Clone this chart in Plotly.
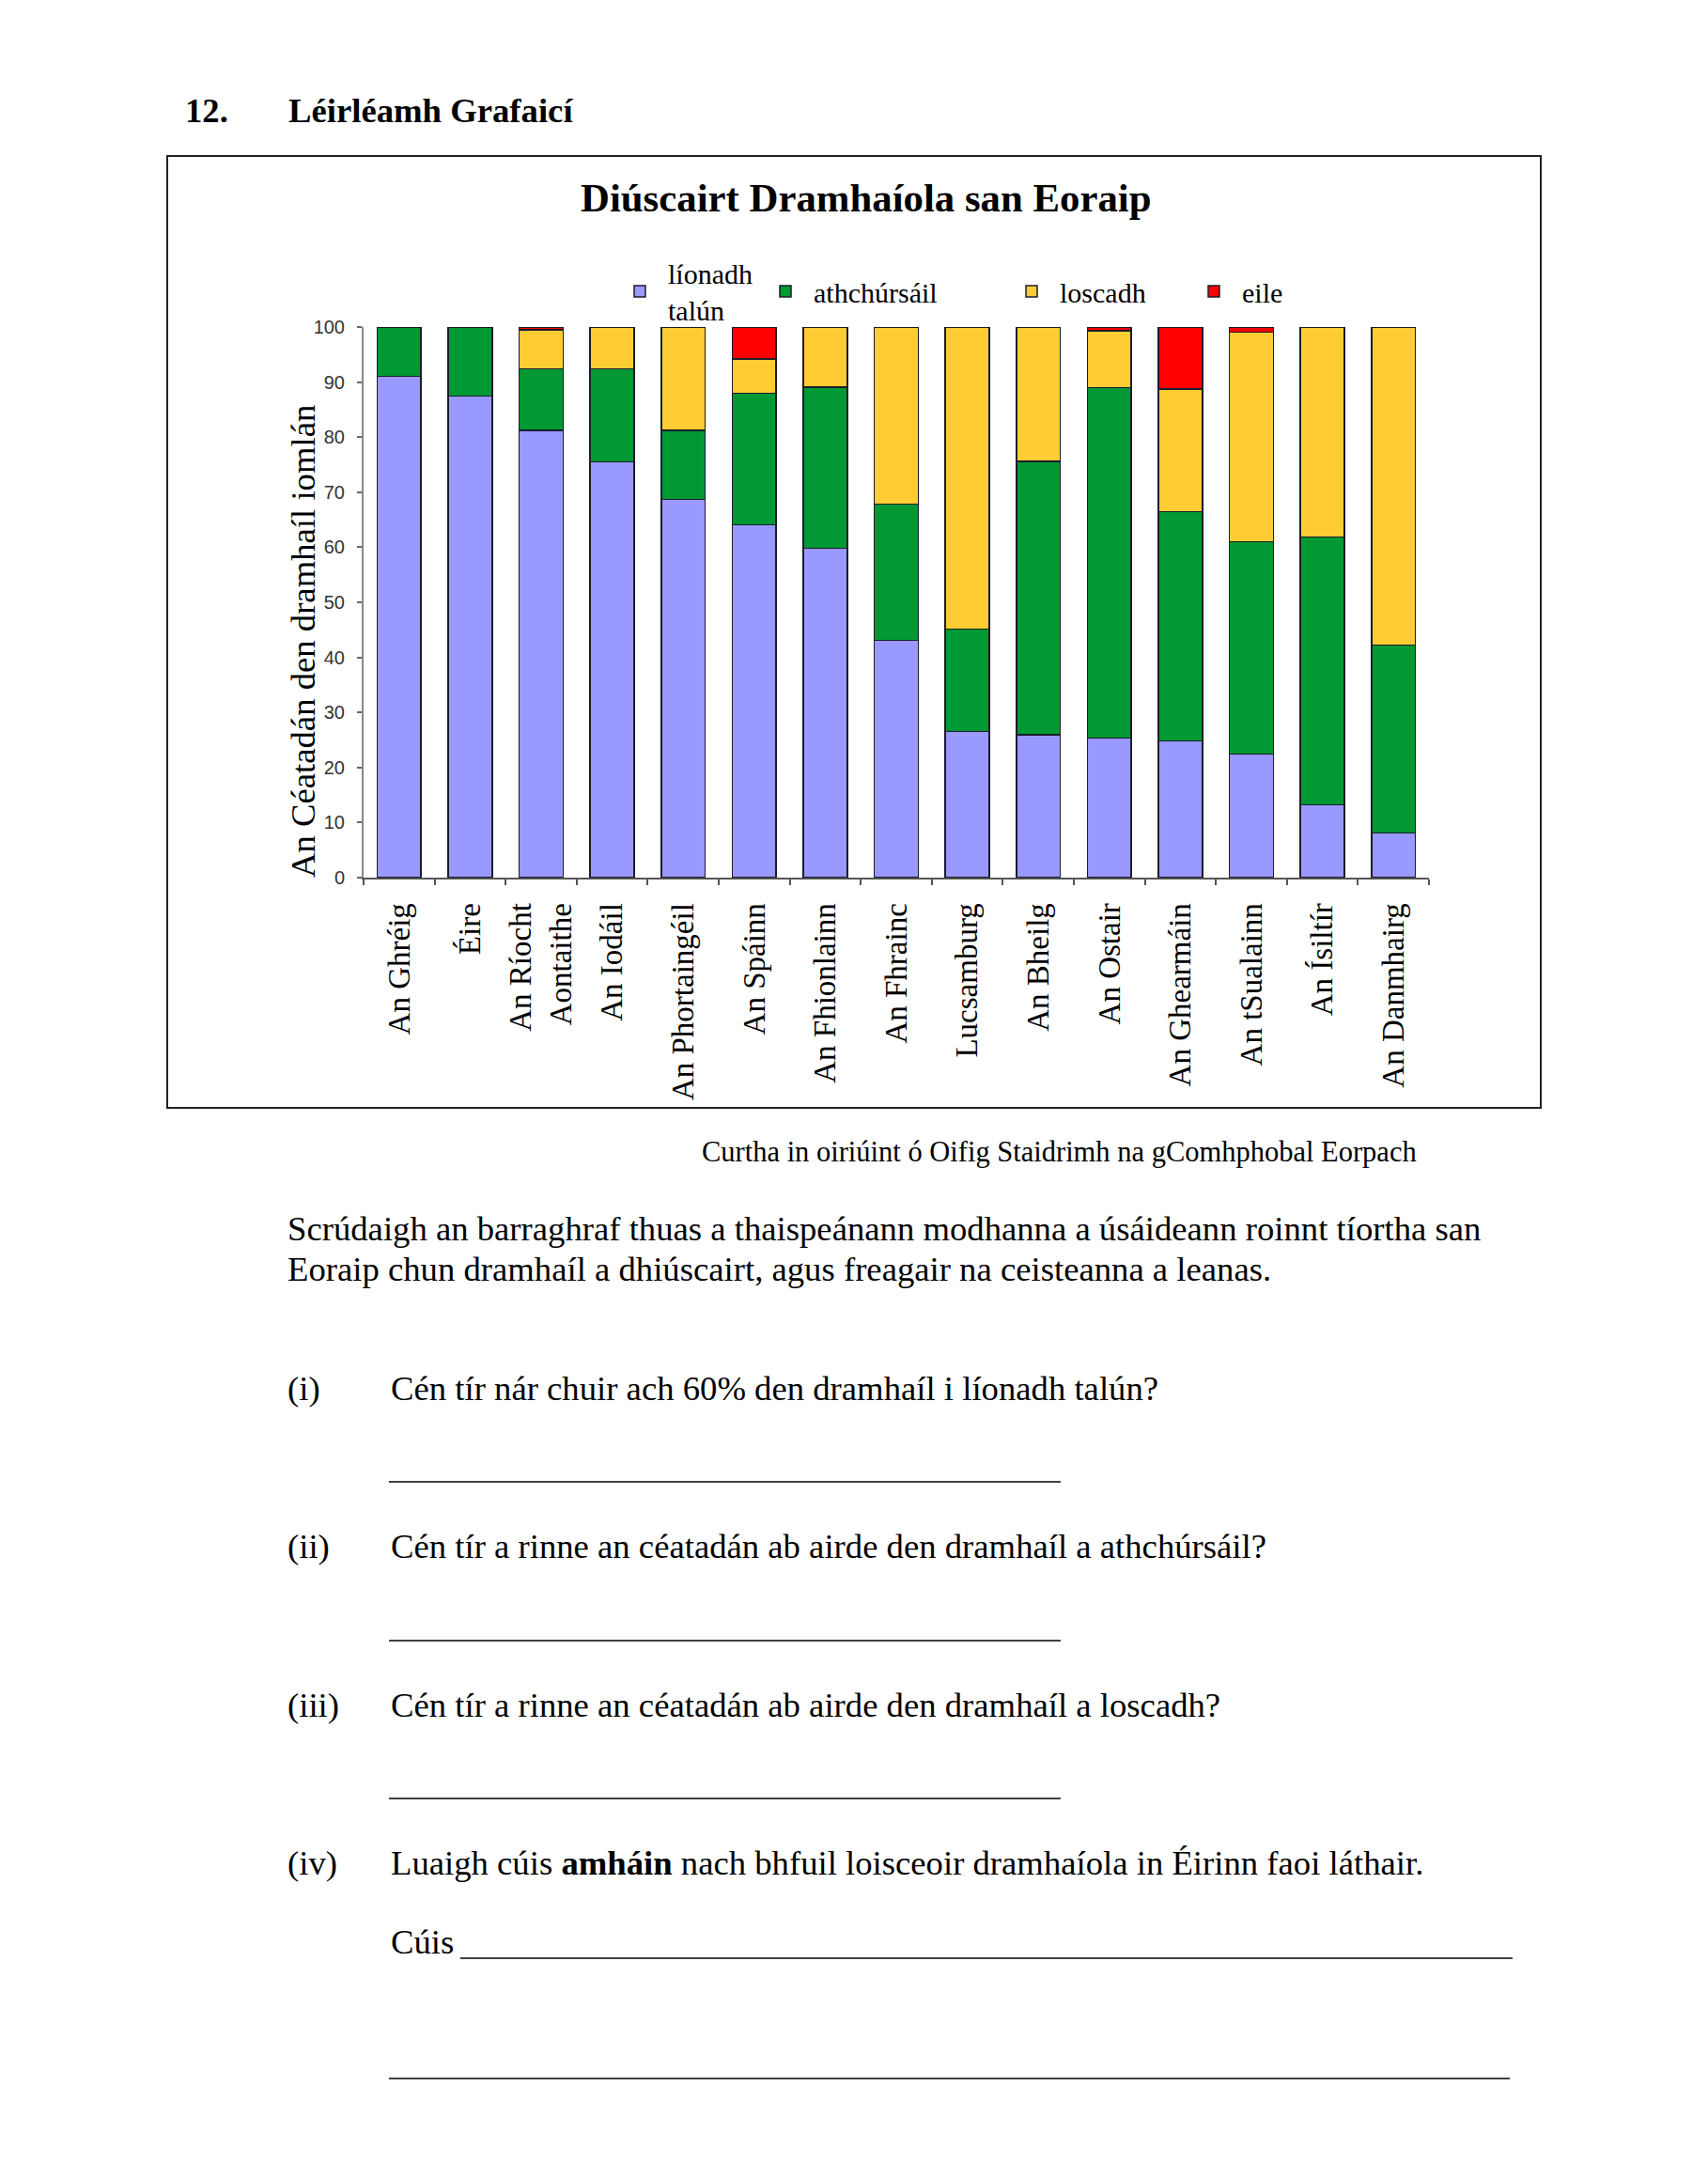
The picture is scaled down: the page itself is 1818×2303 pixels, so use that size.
import plotly.graph_objects as go

# ---------------- data ----------------
countries = ["An Ghréig", "Éire", "An Ríocht<br>Aontaithe", "An Iodáil", "An Phortaingéil",
             "An Spáinn", "An Fhionlainn", "An Fhrainc", "Lucsamburg", "An Bheilg",
             "An Ostair", "An Ghearmáin", "An tSualainn", "An Ísiltír", "An Danmhairg"]
lionadh_talun = [91.0, 87.5, 81.2, 75.5, 68.7, 64.1, 59.8, 43.1, 26.5, 25.9, 25.3, 24.8, 22.4, 13.2, 8.1]
athchursail = [9.0, 12.5, 11.2, 16.9, 12.5, 23.9, 29.3, 24.7, 18.6, 49.7, 63.7, 41.7, 38.6, 48.7, 34.1]
loscadh = [0, 0, 7.1, 7.6, 18.8, 6.2, 10.9, 32.2, 54.9, 24.4, 10.3, 22.2, 38.1, 38.1, 57.8]
eile = [0, 0, 0.5, 0, 0, 5.8, 0, 0, 0, 0, 0.7, 11.3, 0.9, 0, 0]

series_names = ["líonadh<br>talún", "athchúrsáil", "loscadh", "eile"]
series_values = [lionadh_talun, athchursail, loscadh, eile]
series_colors = ["#9999FF", "#009933", "#FFCC33", "#FF0000"]
legend_ids = ["legend", "legend2", "legend3", "legend4"]

y_ticks = list(range(0, 101, 10))

# ---------------- page geometry (screen pixels; page body has an 8px margin) ----------------
OFF = 8
W, H = 1818 - 2 * OFF, 2303 - 2 * OFF
PL, PR, PT, PB = 387, 1521, 348, 934   # plot area in screen pixels


def px(x):
    return (x - PL) / (PR - PL)


def py(y):
    return (PB - y) / (PB - PT)


SERIF = "Liberation Serif"
SANS = "Liberation Sans"

fig = go.Figure()
for name, vals, col, lg in zip(series_names, series_values, series_colors, legend_ids):
    fig.add_trace(go.Bar(
        x=countries, y=vals, name=name, legend=lg,
        marker=dict(color=col, line=dict(color="#1c1c2c", width=1.5)),
    ))

# legends positioned individually (x = start of the label text)
legend_text_x = [712, 867, 1129, 1323]
common_leg = dict(orientation="v", bgcolor="rgba(0,0,0,0)", borderwidth=0,
                  font=dict(family=SERIF, size=30, color="black"),
                  xanchor="left", yanchor="middle", itemwidth=50, itemclick=False)
leg_layout = {}
for lg, tx in zip(legend_ids, legend_text_x):
    leg_layout[lg] = dict(common_leg, x=px(tx - 61), y=py(310))

fig.update_layout(
    width=W, height=H,
    margin=dict(l=PL - OFF, r=(W + OFF) - PR, t=PT - OFF, b=(H + OFF) - PB, pad=0),
    paper_bgcolor="white", plot_bgcolor="white",
    barmode="stack", bargap=0.38,
    showlegend=True,
    **leg_layout,
)

fig.update_xaxes(
    type="category", showline=True, linecolor="#555555", linewidth=2,
    ticks="outside", tickson="boundaries", ticklen=6, tickcolor="#555555", tickwidth=1.5,
    tickangle=-90, tickfont=dict(family=SERIF, size=33, color="black"),
    ticklabelstandoff=12, showgrid=False, zeroline=False,
)
fig.update_yaxes(
    range=[0, 100], tickvals=y_ticks, showline=True, linecolor="#888888", linewidth=2,
    ticks="outside", ticklen=5, tickcolor="#666666", tickwidth=1.5,
    tickfont=dict(family=SANS, size=20, color="#333333"),
    ticklabelstandoff=9, showgrid=False, zeroline=False,
)

annotations = []


def text(x, y, s, size=36.7, anchor="left", angle=0):
    annotations.append(dict(
        x=px(x), y=py(y), xref="paper", yref="paper", text=s, showarrow=False,
        xanchor=anchor, yanchor="middle", textangle=angle,
        font=dict(family=SERIF, size=size, color="black"),
    ))


text(195, 117, "<b>12.</b>")
text(305, 117, "<b>Léirléamh Grafaicí</b>")
text(922, 211, "<b>Diúscairt Dramhaíola san Eoraip</b>", size=42.8, anchor="center")
text(322, 683, "An Céatadán den dramhaíl iomlán", anchor="center", angle=-90)
text(745, 1226, "Curtha in oiriúint ó Oifig Staidrimh na gComhphobal Eorpach", size=30.5)
text(304, 1307, "Scrúdaigh an barraghraf thuas a thaispeánann modhanna a úsáideann roinnt tíortha san")
text(304, 1350, "Eoraip chun dramhaíl a dhiúscairt, agus freagair na ceisteanna a leanas.")
text(304, 1477, "(i)")
text(414, 1477, "Cén tír nár chuir ach 60% den dramhaíl i líonadh talún?")
text(304, 1645, "(ii)")
text(414, 1645, "Cén tír a rinne an céatadán ab airde den dramhaíl a athchúrsáil?")
text(304, 1814, "(iii)")
text(414, 1814, "Cén tír a rinne an céatadán ab airde den dramhaíl a loscadh?")
text(304, 1982, "(iv)")
text(414, 1982, "Luaigh cúis <b>amháin</b> nach bhfuil loisceoir dramhaíola in Éirinn faoi láthair.")
text(414, 2066, "Cúis")

shapes = [dict(type="rect", xref="paper", yref="paper",
               x0=px(178), x1=px(1640), y0=py(1179), y1=py(166),
               line=dict(color="#222222", width=2), fillcolor="rgba(0,0,0,0)", layer="below")]
answer_lines = [(414, 1129, 1577), (414, 1129, 1746), (414, 1129, 1914),
                (490, 1610, 2084), (414, 1607, 2212)]
for x0, x1, y in answer_lines:
    shapes.append(dict(type="line", xref="paper", yref="paper",
                       x0=px(x0), x1=px(x1), y0=py(y), y1=py(y),
                       line=dict(color="black", width=1.5)))

fig.update_layout(annotations=annotations, shapes=shapes)

fig.write_html("out.html")
